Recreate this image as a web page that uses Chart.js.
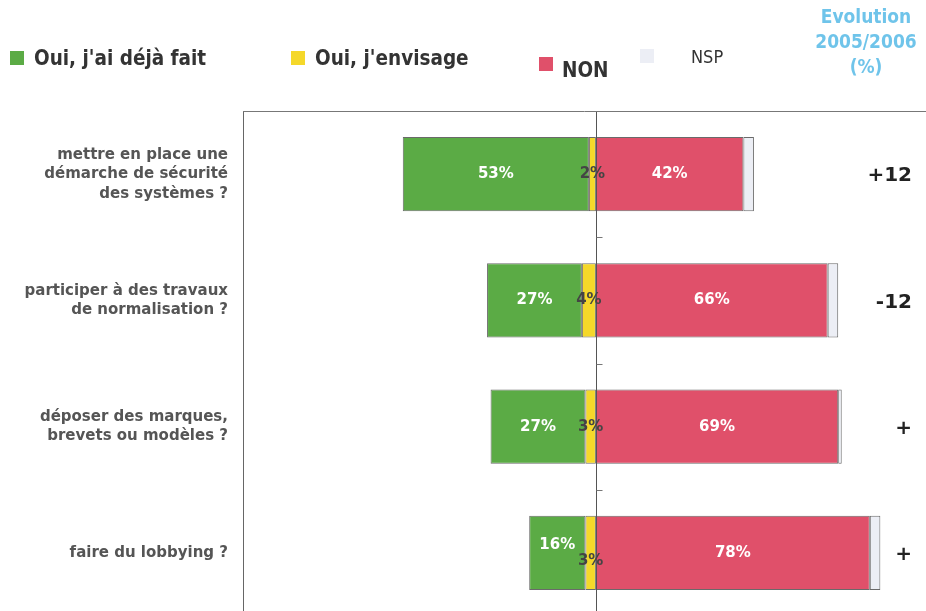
<!DOCTYPE html>
<html lang="fr">
<head>
<meta charset="utf-8">
<title>Evolution 2005/2006</title>
<script src="https://cdn.jsdelivr.net/npm/chart.js@4.4.1/dist/chart.umd.min.js"></script>
<style>
    html, body { margin: 0; padding: 0; background: #fff; overflow: hidden; }
    #wrap { position: relative; width: 926px; height: 611px; overflow: hidden; }
    #chart { position: absolute; left: 0; top: 0; }
    .legend-item { position: absolute; font-family: "DejaVu Sans Condensed", "DejaVu Sans", sans-serif; font-weight: bold; font-size: 20.5px; color: #333; white-space: nowrap; }
    .legend-item span.box { display: inline-block; width: 14px; height: 14px; vertical-align: middle; margin-right: 10px; }
    .legend-item span.txt { vertical-align: middle; }
    #evo { position: absolute; left: 806px; top: 4px; width: 120px; text-align: center; font-family: "DejaVu Sans Condensed", "DejaVu Sans", sans-serif; font-weight: bold; font-size: 19px; line-height: 25px; color: #6fc4ea; }
</style>
</head>
<body>
<div id="wrap">
    <canvas id="chart" width="926" height="616"></canvas>
    <div id="legend"></div>
    <div id="evo">Evolution<br>2005/2006<br>(%)</div>
</div>
<script>
// Questions (y categories)
const categories = [
    ['mettre en place une', 'démarche de sécurité', 'des systèmes ?'],
    ['participer à des travaux', 'de normalisation ?'],
    ['déposer des marques,', 'brevets ou modèles ?'],
    ['faire du lobbying ?']
];

// Answers in %
const dejaFait = [53, 27, 27, 16];
const envisage = [2, 4, 3, 3];
const non = [42, 66, 69, 78];
const nsp = [3, 3, 1, 3];

// Evolution 2005/2006 column
const evolution = ['+12', '-12', '+', '+'];

const seriesNames = ['Oui, j\'ai déjà fait', 'Oui, j\'envisage', 'NON', 'NSP'];
const seriesColors = ['#5bab45', '#f5d82a', '#e0506a', '#eceef5'];

// HTML legend, laid out like the original
const legendSpots = [
    { left: 10, top: 45 },
    { left: 291, top: 45 },
    { left: 539, top: 54 },
    { left: 640, top: 44 }
];
const legendEl = document.getElementById('legend');
seriesNames.forEach((name, i) => {
    const item = document.createElement('div');
    item.className = 'legend-item';
    item.style.left = legendSpots[i].left + 'px';
    item.style.top = legendSpots[i].top + 'px';
    const box = document.createElement('span');
    box.className = 'box';
    box.style.background = seriesColors[i];
    if (i === 3) {
        box.style.marginRight = '37px';
        item.style.fontWeight = 'normal';
        item.style.fontFamily = '"Liberation Sans Narrow", "DejaVu Sans Condensed", sans-serif';
        item.style.fontSize = '18px';
    }
    if (i === 2) {
        box.style.verticalAlign = 'top';
        box.style.marginTop = '3px';
        box.style.marginRight = '9px';
    }
    const txt = document.createElement('span');
    txt.className = 'txt';
    txt.textContent = name;
    if (i === 2) {
        txt.style.verticalAlign = 'top';
        txt.style.position = 'relative';
        txt.style.top = '4px';
    }
    item.appendChild(box);
    item.appendChild(txt);
    legendEl.appendChild(item);
});

// Draws the frame, the zero line with its small ticks, the in-bar values and the evolution column
const decorations = {
    id: 'decorations',
    afterDatasetsDraw(chart) {
        const { ctx, chartArea, scales } = chart;
        const x0 = Math.round(scales.x.getPixelForValue(0)) + 0.5;

        ctx.save();
        ctx.strokeStyle = '#555';
        ctx.lineWidth = 1;
        // zero line, over the bars
        ctx.beginPath();
        ctx.moveTo(x0, chartArea.top);
        ctx.lineTo(x0, chartArea.bottom);
        ctx.stroke();

        // top frame line
        ctx.strokeStyle = '#777';
        ctx.beginPath();
        ctx.moveTo(chartArea.left, chartArea.top + 0.5);
        ctx.lineTo(chartArea.right, chartArea.top + 0.5);
        ctx.stroke();

        // little marks between categories on the zero line
        for (let i = 0; i < categories.length - 1; i++) {
            const yMid = (scales.y.getPixelForTick(i) + scales.y.getPixelForTick(i + 1)) / 2;
            ctx.beginPath();
            ctx.moveTo(x0, Math.round(yMid) + 0.5);
            ctx.lineTo(x0 + 6, Math.round(yMid) + 0.5);
            ctx.stroke();
        }

        // values inside bars
        ctx.font = 'bold 15px "DejaVu Sans", sans-serif';
        ctx.textAlign = 'center';
        ctx.textBaseline = 'middle';
        const labelled = [
            { ds: 1, values: dejaFait, color: '#ffffff' },
            { ds: 0, values: envisage, color: '#444444' },
            { ds: 2, values: non, color: '#ffffff' }
        ];
        labelled.forEach(({ ds, values, color }) => {
            const meta = chart.getDatasetMeta(ds);
            meta.data.forEach((bar, i) => {
                let dy = 0;
                // narrow green segment: nudge the two left labels apart
                if (dejaFait[i] < 20) dy = ds === 1 ? -8 : (ds === 0 ? 8 : 0);
                ctx.fillStyle = color;
                ctx.fillText(values[i] + '%', bar.x + (bar.base - bar.x) / 2, bar.y + dy);
            });
        });

        // evolution column
        ctx.font = 'bold 20px "DejaVu Sans", sans-serif';
        ctx.textAlign = 'right';
        ctx.fillStyle = '#222';
        evolution.forEach((v, i) => {
            ctx.fillText(v, 912, scales.y.getPixelForTick(i) + 2);
        });
        ctx.restore();
    }
};

new Chart(document.getElementById('chart'), {
    type: 'bar',
    data: {
        labels: categories,
        datasets: [
            { label: seriesNames[1], data: envisage.map(v => -v), backgroundColor: seriesColors[1] },
            { label: seriesNames[0], data: dejaFait.map(v => -v), backgroundColor: seriesColors[0] },
            { label: seriesNames[2], data: non, backgroundColor: seriesColors[2] },
            { label: seriesNames[3], data: nsp, backgroundColor: seriesColors[3] }
        ].map(ds => Object.assign(ds, {
            borderColor: '#6a6a6a',
            borderWidth: 1,
            borderSkipped: false,
            barPercentage: 0.59,
            categoryPercentage: 1
        }))
    },
    options: {
        indexAxis: 'y',
        responsive: false,
        animation: false,
        layout: { padding: { top: 111, left: 0, right: 0, bottom: 0 } },
        plugins: {
            legend: { display: false },
            tooltip: { enabled: false }
        },
        scales: {
            x: {
                display: false,
                stacked: true,
                min: -100.5,
                max: 94
            },
            y: {
                stacked: true,
                afterFit(scale) {
                    scale.width = 243;
                    // multi-line labels would otherwise pad the plot bottom
                    scale.paddingTop = 0;
                    scale.paddingBottom = 0;
                },
                border: { display: true, color: '#666' },
                grid: { display: false, drawTicks: false },
                ticks: {
                    padding: 15,
                    color: '#555',
                    font: { family: '"DejaVu Sans", sans-serif', weight: 'bold', size: 15, lineHeight: 1.3 }
                }
            }
        }
    },
    plugins: [decorations]
});
</script>
</body>
</html>
